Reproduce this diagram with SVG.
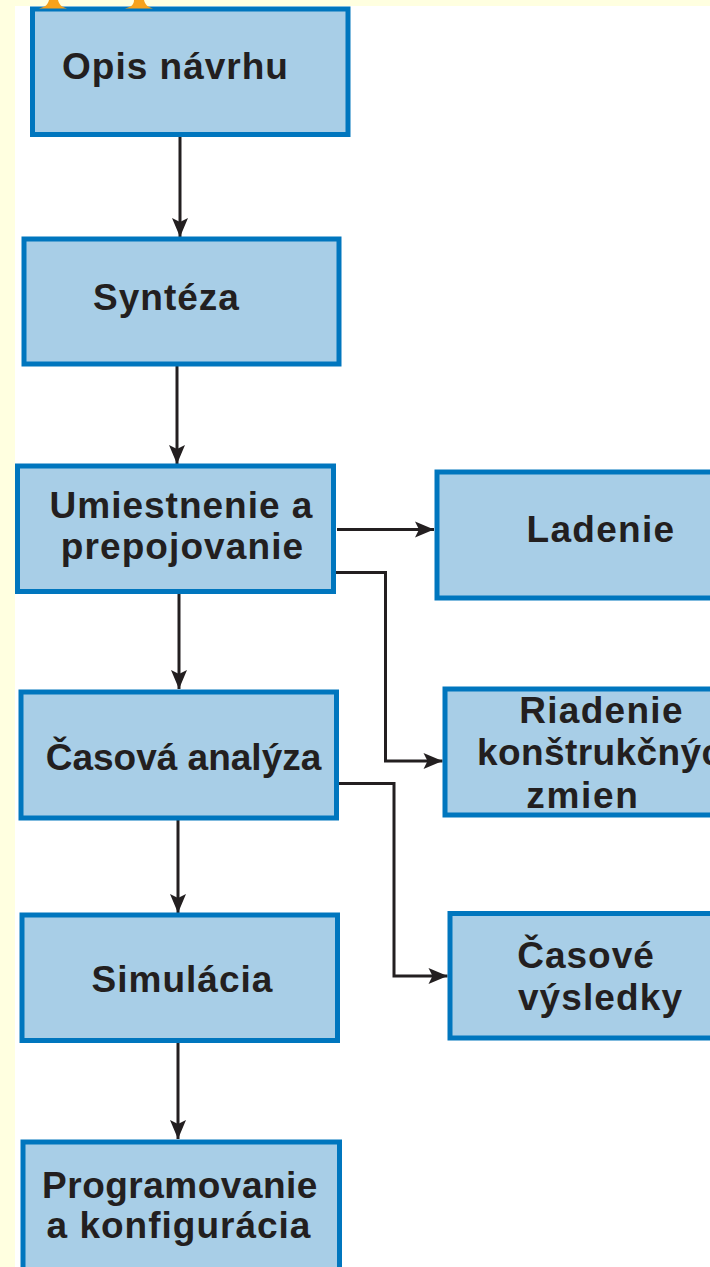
<svg xmlns="http://www.w3.org/2000/svg" width="710" height="1267" viewBox="0 0 710 1267">
  <style>
    .box rect { fill: #A8CEE7; stroke: #0076BE; stroke-width: 5; }
    .box text { font-family: "Liberation Sans", Arial, sans-serif; font-weight: bold; font-size: 37px; fill: #231F20; text-anchor: middle; letter-spacing: 1px; }
    .box text.start { text-anchor: start; }
    .conn path { fill: none; stroke: #231F20; stroke-width: 3; }
  </style>
  <defs>
    <marker id="arrow" viewBox="-20 -9 21 18" refX="0" refY="0" markerWidth="21" markerHeight="18" markerUnits="userSpaceOnUse" orient="auto">
      <path d="M0,0 L-19,-8 L-15,0 L-19,8 Z" fill="#231F20"/>
    </marker>
  </defs>

  <!-- page background with pale yellow margins -->
  <rect x="0" y="0" width="710" height="1267" fill="#FFFFFF"/>
  <rect x="0" y="0" width="710" height="6" fill="#FFFFE0"/>
  <rect x="0" y="0" width="15" height="1267" fill="#FFFFE0"/>

  <!-- connectors -->
  <g id="connectors" class="conn">
    <path d="M180,137 V237" marker-end="url(#arrow)"/>
    <path d="M177,366 V464" marker-end="url(#arrow)"/>
    <path d="M179,594 V689" marker-end="url(#arrow)"/>
    <path d="M178,820 V913" marker-end="url(#arrow)"/>
    <path d="M178,1043 V1139" marker-end="url(#arrow)"/>
    <path d="M337,529.5 H434" marker-end="url(#arrow)"/>
    <path d="M336,572.5 H385.5 V761 H442.5" marker-end="url(#arrow)"/>
    <path d="M336,783.5 H394 V976 H447.5" marker-end="url(#arrow)"/>
  </g>

  <!-- nodes -->
  <g id="opis-navrhu" class="box">
    <rect x="32.5" y="9" width="315.5" height="125.5"/>
    <text x="175.5" y="79">Opis návrhu</text>
  </g>
  <g id="synteza" class="box">
    <rect x="24" y="239" width="315" height="125"/>
    <text x="166.5" y="310">Syntéza</text>
  </g>
  <g id="umiestnenie" class="box">
    <rect x="17.5" y="466" width="316" height="125.5"/>
    <text x="181.5" y="518">Umiestnenie a</text>
    <text x="182.5" y="559" style="letter-spacing:1.1px">prepojovanie</text>
  </g>
  <g id="casova-analyza" class="box">
    <rect x="21" y="692" width="315.5" height="126"/>
    <text x="183.5" y="770" style="letter-spacing:0">Časová analýza</text>
  </g>
  <g id="simulacia" class="box">
    <rect x="22" y="915" width="315.5" height="125.5"/>
    <text x="182.5" y="992">Simulácia</text>
  </g>
  <g id="programovanie" class="box">
    <rect x="23" y="1142" width="316.5" height="135"/>
    <text x="180" y="1198" style="letter-spacing:0.5px">Programovanie</text>
    <text x="179" y="1238">a konfigurácia</text>
  </g>
  <g id="ladenie" class="box">
    <rect x="437" y="472" width="300" height="126"/>
    <text x="601" y="542" style="letter-spacing:1.3px">Ladenie</text>
  </g>
  <g id="riadenie" class="box">
    <rect x="445" y="689" width="300" height="126"/>
    <text x="601.5" y="723" style="letter-spacing:1.3px">Riadenie</text>
    <text class="start" x="477" y="765" style="letter-spacing:0.4px">konštrukčných</text>
    <text x="583" y="808" style="letter-spacing:1.7px">zmien</text>
  </g>
  <g id="casove-vysledky" class="box">
    <rect x="450" y="913.5" width="300" height="124.5"/>
    <text x="586" y="968">Časové</text>
    <text x="600.5" y="1010" style="letter-spacing:1.1px">výsledky</text>
  </g>

  <!-- orange feet peeking in at the top edge -->
  <g id="top-feet" fill="#F7A21B">
    <path d="M39,8.5 C46,7 48,4 49,0 H58 C59,4 61,7 67,8.5 Z"/>
    <path d="M125,8.5 C132,7 134,4 134,0 H144 C145,4 147,7 153,8.5 Z"/>
  </g>
</svg>
